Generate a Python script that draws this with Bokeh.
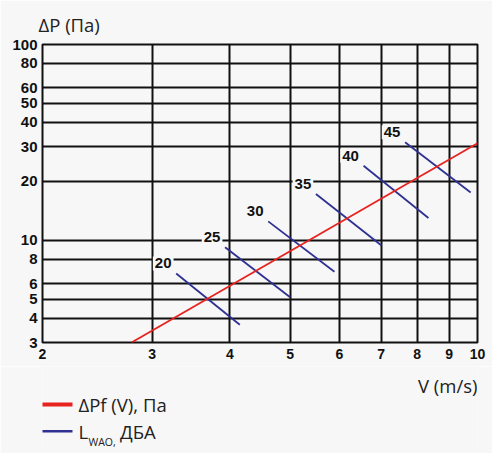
from bokeh.plotting import figure
from bokeh.layouts import column
from bokeh.models import ColumnDataSource, FixedTicker, Range1d
from bokeh.core.properties import value
from bokeh.embed import file_html
from bokeh.resources import INLINE

# ---- data ----
x_ticks = [2, 3, 4, 5, 6, 7, 8, 9, 10]
y_ticks = [3, 4, 5, 6, 8, 10, 20, 30, 40, 50, 60, 80, 100]

# pressure drop line dPf(V)
dp_v = [2.78, 10.0]
dp_p = [3.0, 31.3]

# noise level (L_WAO, dBA) iso-lines: start/end points
lw_levels = ["20", "25", "30", "35", "40", "45"]
lw_x0 = [3.28, 3.93, 4.61, 5.50, 6.56, 7.65]
lw_y0 = [6.76, 9.20, 12.48, 17.23, 24.03, 31.63]
lw_x1 = [4.15, 5.00, 5.89, 7.01, 8.34, 9.75]
lw_y1 = [3.70, 5.11, 6.90, 9.39, 12.99, 17.51]

y_title = "ΔP (Па)"
x_title = "V (m/s)"
legend_dp = "ΔPf (V), Па"
legend_lw = ["L", "WAO,", "ДБА"]

BG = "#f7f7f7"
RED = "#e8231f"
BLUE = "#2e3192"
INK = "#111111"
TXT = "#222222"
FS = "18.5px"

W = 492
LEFT, RIGHT = 42, 15
p = figure(x_axis_type="log", y_axis_type="log",
           x_range=(2, 10), y_range=(3, 100),
           width=W, height=366,
           min_border_left=LEFT, min_border_right=RIGHT,
           min_border_top=44, min_border_bottom=24,
           output_backend="svg", toolbar_location=None,
           background_fill_color=BG, border_fill_color=BG,
           title=y_title)

p.title.text_font = "Open Sans"
p.title.text_font_style = "normal"
p.title.text_font_size = FS
p.title.text_color = TXT
p.title.align = "left"
p.title.offset = -4
p.title.standoff = 16

p.outline_line_color = INK
p.outline_line_width = 2

for ax, ticks in ((p.xaxis, x_ticks), (p.yaxis, y_ticks)):
    ax.ticker = FixedTicker(ticks=ticks, minor_ticks=[])
    ax.major_label_overrides = {t: str(t) for t in ticks}
    ax.axis_line_color = None
    ax.major_tick_line_color = None
    ax.minor_tick_line_color = None
    ax.major_label_text_font = "Liberation Sans"
    ax.major_label_text_font_style = "bold"
    ax.major_label_text_color = INK
    ax.major_tick_in = 0
    ax.major_tick_out = 0

p.yaxis.major_label_text_font_size = "15px"
p.yaxis.major_label_standoff = 5
p.xaxis.major_label_text_font_size = "14px"
p.xaxis.major_label_standoff = 6

p.xgrid.ticker = FixedTicker(ticks=x_ticks, minor_ticks=[])
p.ygrid.ticker = FixedTicker(ticks=y_ticks, minor_ticks=[])
for g in (p.xgrid, p.ygrid):
    g.grid_line_color = INK
    g.grid_line_width = 2
    g.grid_line_alpha = 1.0

# noise iso-lines
lw_src = ColumnDataSource(dict(x0=lw_x0, y0=lw_y0, x1=lw_x1, y1=lw_y1,
                               lab=lw_levels))
p.segment("x0", "y0", "x1", "y1", source=lw_src,
          line_color=BLUE, line_width=1.8)

# pressure line
p.line(dp_v, dp_p, line_color=RED, line_width=1.8)

# level labels with background boxes that break the grid
p.text(x="x0", y="y0", text="lab", source=lw_src,
       x_offset=-13, y_offset=-10,
       text_align="center", text_baseline="middle",
       text_font=value("Liberation Sans"), text_font_style="bold",
       text_font_size="15px", text_color=INK,
       background_fill_color=BG, padding=2)

# ---- lower panel: x-axis title and legend (page-pixel coordinates) ----
H2 = 87
top2 = 366
q = figure(width=W, height=H2,
           x_range=Range1d(LEFT, W - RIGHT), y_range=Range1d(top2 + H2, top2),
           min_border_left=LEFT, min_border_right=RIGHT,
           min_border_top=0, min_border_bottom=0,
           x_axis_location=None, y_axis_location=None,
           output_backend="svg", toolbar_location=None,
           background_fill_color=BG, border_fill_color=BG)
q.grid.visible = False
q.outline_line_color = None

q.text(x=[W - RIGHT], y=[384.5], text=[x_title], text_align="right",
       text_baseline="middle", text_font=value("Open Sans"),
       text_font_size=FS, text_color=TXT)

q.segment(x0=[40], y0=[404], x1=[72], y1=[404], line_color=RED, line_width=4)
q.segment(x0=[40], y0=[430.7], x1=[72], y1=[430.7], line_color=BLUE,
          line_width=2.5)
q.text(x=[78], y=[404], text=[legend_dp], text_baseline="middle",
       text_font=value("Open Sans"), text_font_size=FS, text_color=TXT)
q.text(x=[78, 88, 119.5], y=[431, 441.5, 431], text=legend_lw,
       text_baseline="middle", text_font=value("Open Sans"),
       text_font_size=[FS, "10.5px", FS], text_color=TXT)

layout = column(p, q, spacing=0)
open("out.html", "w").write(file_html(layout, INLINE))
